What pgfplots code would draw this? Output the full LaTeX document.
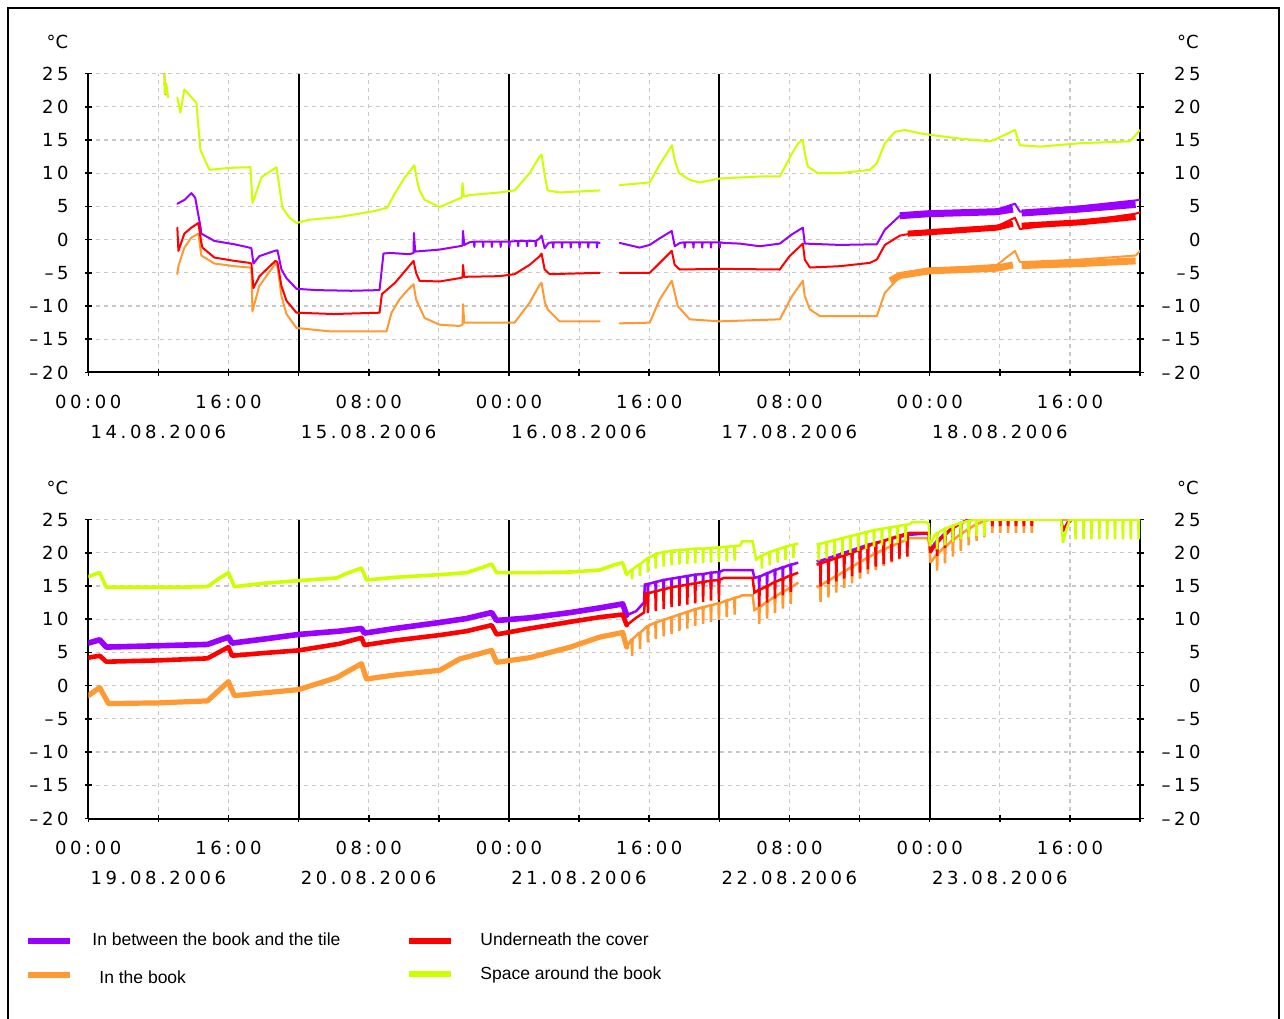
\documentclass[border=0pt]{standalone}
\usepackage{fontspec}
\setmainfont{Liberation Sans}
\newfontfamily\tickfont{DejaVu Sans}[LetterSpace=20]
\newfontfamily\unitfont{DejaVu Sans}
\usepackage{pgfplots}
\pgfplotsset{compat=1.18}
\definecolor{cpur}{RGB}{153,0,255}
\definecolor{cred}{RGB}{255,0,0}
\definecolor{cora}{RGB}{255,153,51}
\definecolor{cgrn}{RGB}{204,255,0}
\definecolor{cgrid}{RGB}{200,200,200}
\newcommand{\tf}{\tickfont\fontsize{9}{10}\selectfont}
\newcommand{\uf}{\unitfont\fontsize{9}{10}\selectfont}
\pgfplotsset{
 panel/.style={
  scale only axis, width=525.85pt, height=149.5pt, anchor=south west,
  xmin=0, xmax=120, ymin=-20, ymax=25,
  axis x line*=bottom, axis y line*=box,
  axis line style={line width=1pt, black},
  xtick={0,8,...,120},
  xticklabels={00:00,,16:00,,08:00,,00:00,,16:00,,08:00,,00:00,,16:00,,},
  ytick={-20,-15,...,25},
  yticklabels={–20,–15,–10,–5,0,5,10,15,20,25},
  tick align=center, major tick length=3.5pt, tick style={line width=0.8pt, black},
  grid=major, major grid style={cgrid, line width=0.6pt, dash pattern=on 2pt off 2pt},
  ticklabel style={font=\tf, inner sep=0pt},
  xticklabel style={anchor=north, yshift=-9.5pt},
  yticklabel style={anchor=east, xshift=-7.9pt},
  extra x ticks={24,48,72,96}, extra x tick labels={},
  extra x tick style={grid=major, major grid style={black, solid, line width=1pt}},
  unbounded coords=jump,
  every axis plot/.append style={line join=round, line cap=round},
 },
 rlab/.style={
  scale only axis, width=525.85pt, height=149.5pt, anchor=south west,
  xmin=0, xmax=120, ymin=-20, ymax=25,
  axis x line=none, axis y line*=right, axis line style={draw=none},
  ytick={-20,-15,...,25},
  yticklabels={–20,–15,–10,–5,0,5,10,15,20,25},
  major tick length=0pt,
  ticklabel style={font=\tf, inner sep=0pt},
  yticklabel style={anchor=east, xshift=30.5pt},
 },
 saw/.style={line width=1.25pt, line cap=butt, line join=miter, miter limit=2},
}
\begin{document}
\begin{tikzpicture}
\path[use as bounding box] (0,0) rectangle (642pt,509pt);
\draw[line width=1pt] (4pt,-1pt) rectangle (639.5pt,505pt);

% ---------------- top panel ----------------
\begin{axis}[panel, at={(44.15pt,322.75pt)}]
\addplot[cpur, line width=1pt] coordinates {
(10.16,5.4)(11.0,6.0)(11.76,7.0)(12.2,6.3)(12.79,2.0)(12.9,0.9)(14.39,-0.2)(16.67,-0.7)(18.38,-1.2)(18.61,-1.3)(18.84,-3.6)(19.5,-2.5)(21.24,-1.7)(21.58,-1.6)(22.04,-4.5)(22.61,-5.8)(23.75,-7.4)(26,-7.6)(30,-7.7)(33.23,-7.6)(33.68,-2.1)(34.37,-2.0)(36.65,-2.2)(37.11,-2.0)(37.15,1.0)(37.3,-1.8)(40.08,-1.5)(42.36,-1.0)(42.7,-0.9)(42.75,1.3)(42.9,-0.8)(43.5,-0.4)
(44,-0.3)(44.05,-1.1)(44.1,-0.3)(45,-0.3)(45.05,-1.1)(45.1,-0.3)(46,-0.3)(46.05,-1.1)(46.1,-0.3)(47,-0.3)(47.05,-1.1)(47.1,-0.3)(48,-0.3)(48.05,-1.1)(48.1,-0.3)(49,-0.2)(49.05,-1.0)(49.1,-0.2)(50,-0.2)(50.05,-1.0)(50.1,-0.2)(51,-0.2)(51.05,-1.0)(51.1,-0.2)
(51.5,0.2)(51.72,0.6)(52.07,-1.3)(52.5,-0.5)
(53,-0.4)(53.05,-1.2)(53.1,-0.4)(54,-0.4)(54.05,-1.2)(54.1,-0.4)(55,-0.4)(55.05,-1.2)(55.1,-0.4)(56,-0.4)(56.05,-1.2)(56.1,-0.4)(57,-0.4)(57.05,-1.2)(57.1,-0.4)(58,-0.4)(58.05,-1.2)(58.1,-0.4)
(58.35,-0.5)(58.4,nan)
(60.63,-0.5)(62.91,-1.2)(64.06,-0.8)(65.2,0.2)(66.57,1.3)(66.91,-1.0)(67.5,-0.5)
(68,-0.4)(68.05,-1.2)(68.1,-0.4)(69,-0.4)(69.05,-1.2)(69.1,-0.4)(70,-0.4)(70.05,-1.2)(70.1,-0.4)(71,-0.4)(71.05,-1.2)(71.1,-0.4)(72,-0.4)(72.05,-1.2)(72.1,-0.4)
(72.5,-0.5)(74.33,-0.6)(76.62,-1.0)(78.9,-0.6)(80.3,0.8)(81.53,1.8)(81.75,-0.6)(85.75,-0.8)(89.97,-0.7)(90.89,1.5)(92.6,3.6)(95.91,4.2)(103.68,4.5)(105.73,5.4)(106.3,4.2)(113.15,5.0)(119.5,5.9)(120,6.0)
};
\addplot[cpur, line width=3.5pt, line cap=butt] coordinates {
(92.6,3.6)(95.91,3.9)(103.68,4.2)(105.5,4.6)(105.6,nan)(106.5,4.0)(113.15,4.6)(119.5,5.3)
};
\addplot[cora, line width=1pt] coordinates {
(8.68,25)(8.75,22)(8.85,21.8)(8.9,nan)
(10.16,-5.2)(10.28,-4)(10.96,-1.2)(11.76,0.3)(12.56,0.9)(12.9,-2.4)(14.39,-3.6)(16.67,-4)(18.38,-4.2)(18.61,-4.3)(18.73,-10.8)(19.5,-7)(21.35,-3.6)(21.58,-4)(22.04,-8.5)(22.61,-11.2)(23.75,-13.3)(27.52,-13.8)(34.03,-13.8)(34.6,-11)(35.5,-9)(36.5,-7.5)(37.11,-6.7)(37.4,-9)(38.37,-11.8)(40.08,-12.8)(42.36,-13)(42.7,-12.8)(42.75,-9.7)(42.9,-12.5)(48.64,-12.5)(50.35,-9.5)(51.5,-6.8)(51.72,-6.5)(52.1,-9.5)(52.41,-10.5)(53.78,-12.3)(58.35,-12.3)(58.4,nan)
(60.63,-12.6)(64.06,-12.5)(65.2,-9)(66.57,-6.2)(66.91,-8)(67.25,-10)(68.62,-12)(72.05,-12.3)(78.9,-12)(80.3,-8.5)(81.53,-6.2)(81.75,-8.5)(82.33,-10.5)(83.47,-11.5)(89.97,-11.5)(90.89,-8)(92.6,-5.6)(95.91,-4.5)(103.68,-3.8)(105.73,-1.7)(106.3,-3.4)(113.15,-3.0)(119.5,-2.4)(120,-1.7)
};
\addplot[cora, line width=3.5pt, line cap=butt] coordinates {
(91.5,-6.2)(92.6,-5.4)(95.91,-4.7)(103.68,-4.3)(105.5,-3.8)(105.6,nan)(106.5,-3.9)(113.15,-3.6)(119.5,-3.2)
};
\addplot[cred, line width=1pt] coordinates {
(10.16,1.8)(10.28,-1.7)(10.96,0.9)(11.76,1.8)(12.56,2.5)(12.9,-0.5)(13.02,-1.2)(14.39,-2.7)(16.67,-3.2)(18.38,-3.5)(18.61,-3.6)(18.84,-7.3)(19.53,-5.5)(21.35,-3.2)(21.58,-3.4)(22.04,-7)(22.61,-9.2)(23.75,-11)(28,-11.2)(33.23,-11)(33.5,-8.2)(35,-6.5)(37.11,-3.2)(37.4,-5)(37.79,-6.2)(40.08,-6.3)(42.36,-5.8)(42.7,-5.7)(42.75,-3.8)(42.9,-5.6)(46.93,-5.5)(48.64,-5.2)(50.35,-3.8)(51.5,-2.5)(51.72,-2.1)(52.07,-4.5)(52.64,-5.2)(58.35,-5.0)(58.4,nan)
(60.63,-5)(64.06,-5)(65.2,-3.5)(66.57,-1.7)(66.91,-3.8)(67.48,-4.5)(72.05,-4.4)(78.9,-4.5)(80.0,-2.5)(81.53,-0.6)(81.75,-3)(82.33,-4.2)(85.75,-4)(89.18,-3.5)(89.97,-3)(90.89,-0.8)(92.6,0.6)(95.91,1.4)(103.68,2.0)(105.73,3.3)(106.3,1.6)(113.15,2.7)(119.5,3.9)(120,4.1)
};
\addplot[cred, line width=3pt, line cap=butt] coordinates {
(93.5,0.9)(95.91,1.1)(103.68,1.8)(105.5,2.4)(105.6,nan)(106.5,2.1)(113.15,2.6)(119.5,3.4)
};
\addplot[cgrn, line width=1pt] coordinates {
(8.68,24.8)(8.75,22)(8.9,23.5)(9.1,21.4)(9.2,nan)
(10.16,21.4)(10.5,19.1)(10.96,22.6)(12.33,20.6)(12.79,13.5)(13.82,10.5)(16.1,10.8)(18.5,10.9)(18.73,5.5)(19.76,9.4)(21.47,10.9)(22.15,4.8)(22.95,3.3)(23.75,2.5)(25.23,3.0)(28.6,3.4)(32.66,4.3)(34.1,4.8)(35,7)(36.08,9.3)(37.2,11.2)(37.5,9)(37.79,7.4)(38.37,6)(40.08,4.9)(42.36,6.2)(42.6,6.3)(42.7,8.5)(42.85,6.5)(43.5,6.7)(46.93,7.1)(48.64,7.4)(50.35,10)(51.4,12.3)(51.72,12.8)(52.1,9.5)(52.41,7.4)(53.78,7.1)(58.35,7.4)(58.4,nan)
(60.63,8.2)(64.06,8.6)(65.2,11.3)(66.6,14.2)(66.9,12)(67.4,10)(68.62,9)(69.76,8.6)(72.05,9.2)(76.62,9.5)(78.9,9.5)(80.3,13)(81.0,14.5)(81.53,15)(81.75,13)(82.1,11)(83.24,10)(85.75,10)(89.18,10.5)(89.97,11.5)(90.89,14.5)(92.03,16.2)(93.17,16.5)(94.88,16)(95.91,15.8)(99.45,15.2)(102.88,14.8)(103.68,15.2)(105.73,16.5)(106.3,14.2)(108.59,14)(113.15,14.5)(118.86,14.8)(120,16.5)
};
\end{axis}
\begin{axis}[rlab, at={(44.15pt,322.75pt)}]
\end{axis}

% ---------------- bottom panel ----------------
\begin{axis}[panel, at={(44.15pt,99.75pt)}]
% purple
\addplot[cpur, line width=2.8pt] coordinates {
(0,6.4)(1.3,6.9)(2.05,5.8)(8,6.0)(13.59,6.2)(15.99,7.3)(16.4,6.4)(20,7.0)(23.98,7.7)(28.66,8.2)(31.17,8.6)(31.51,7.9)(35,8.6)(40.08,9.5)(43.16,10.1)(46.02,11.0)(46.59,9.8)(50.35,10.2)(55,11.0)(58.35,11.7)(60.97,12.3)(61.43,10.6)
};
\addplot[cpur, saw] coordinates {
(61.43,10.6)(62.5,11.2)(63.4,12.5)(63.5,15.2)
(63.8,15.3)(63.85,13.3)(63.9,15.3)(64.7,15.6)(64.75,13.6)(64.8,15.6)(65.6,15.9)(65.65,13.9)(65.7,15.9)(66.5,16.1)(66.55,14.1)(66.6,16.1)(67.4,16.3)(67.45,14.3)(67.5,16.3)(68.3,16.5)(68.35,14.5)(68.4,16.5)(69.2,16.7)(69.25,14.7)(69.3,16.7)(70.1,16.8)(70.15,14.8)(70.2,16.8)(71.0,17.0)(71.05,15.0)(71.1,17.0)(71.9,17.1)(71.95,15.1)(72.0,17.1)
(72.5,17.4)(75.8,17.4)(76.0,16.2)
(76.5,16.4)(76.55,14.4)(76.6,16.4)(77.4,16.9)(77.45,14.9)(77.5,16.9)(78.3,17.4)(78.35,15.4)(78.4,17.4)(79.2,17.8)(79.25,15.8)(79.3,17.8)(80.1,18.2)(80.15,16.2)(80.2,18.2)
(81.0,18.5)(81.1,nan)
(83.1,18.7)
(83.5,18.8)(83.55,17.0)(83.6,18.8)(84.4,19.2)(84.45,17.4)(84.5,19.2)(85.3,19.6)(85.35,17.8)(85.4,19.6)(86.2,20.0)(86.25,18.2)(86.3,20.0)(87.1,20.4)(87.15,18.6)(87.2,20.4)(88.0,20.8)(88.05,19.0)(88.1,20.8)(88.9,21.2)(88.95,19.4)(89.0,21.2)(89.8,21.5)(89.85,19.7)(89.9,21.5)(90.7,21.8)(90.75,20.0)(90.8,21.8)(91.6,22.1)(91.65,20.3)(91.7,22.1)(92.5,22.4)(92.55,20.6)(92.6,22.4)(93.4,22.6)(93.45,20.8)(93.5,22.6)
(93.7,22.7)(95.8,22.9)(95.91,22.7)(96.1,20.5)
(96.8,21.8)(96.85,20.3)(96.9,21.8)(97.7,22.9)(97.75,21.4)(97.8,22.9)(98.6,23.8)(98.65,22.3)(98.7,23.8)(99.5,24.5)(99.55,23.0)(99.6,24.5)(100.4,25)(100.45,23.5)(100.5,25)
(111.0,25)(111.2,23.2)(111.7,24.5)(112.2,25)(120,25)
};
% orange
\addplot[cora, line width=2.6pt] coordinates {
(0,-1.5)(1.3,-0.3)(2.3,-2.7)(8,-2.6)(13.59,-2.3)(15.99,0.6)(16.67,-1.5)(20,-1.1)(23.98,-0.6)(28.32,1.2)(31.17,3.3)(31.74,1.0)(35,1.6)(40.08,2.3)(42.36,4.0)(46.02,5.3)(46.59,3.5)(50.35,4.2)(55,5.8)(58.35,7.3)(60.97,8.0)(61.43,5.8)
};
\addplot[cora, saw] coordinates {
(61.43,5.8)
(62.0,7.0)(62.05,4.5)(62.1,7.0)(62.9,8.0)(62.95,5.5)(63.0,8.0)(63.8,9.0)(63.85,6.5)(63.9,9.0)(64.7,9.5)(64.75,7.0)(64.8,9.5)(65.6,9.9)(65.65,7.4)(65.7,9.9)(66.5,10.3)(66.55,7.8)(66.6,10.3)(67.4,10.7)(67.45,8.2)(67.5,10.7)(68.3,11.1)(68.35,8.6)(68.4,11.1)(69.2,11.5)(69.25,9.0)(69.3,11.5)(70.1,11.8)(70.15,9.3)(70.2,11.8)(71.0,12.1)(71.05,9.6)(71.1,12.1)(71.9,12.4)(71.95,9.9)(72.0,12.4)(72.8,12.8)(72.85,10.3)(72.9,12.8)(73.7,13.2)(73.75,10.7)(73.8,13.2)
(74.3,13.4)(74.6,13.6)(75.8,13.6)(76.0,11.4)
(76.5,11.8)(76.55,9.3)(76.6,11.8)(77.4,12.6)(77.45,10.1)(77.5,12.6)(78.3,13.4)(78.35,10.9)(78.4,13.4)(79.2,14.1)(79.25,11.6)(79.3,14.1)(80.1,14.8)(80.15,12.3)(80.2,14.8)
(81.0,15.5)(81.1,nan)
(83.1,14.8)
(83.5,15.1)(83.55,12.6)(83.6,15.1)(84.4,15.8)(84.45,13.3)(84.5,15.8)(85.3,16.5)(85.35,14.0)(85.4,16.5)(86.2,17.2)(86.25,14.7)(86.3,17.2)(87.1,17.9)(87.15,15.4)(87.2,17.9)(88.0,18.6)(88.05,16.1)(88.1,18.6)(88.9,19.3)(88.95,16.8)(89.0,19.3)(89.8,19.9)(89.85,17.4)(89.9,19.9)(90.7,20.5)(90.75,18.0)(90.8,20.5)(91.6,21.0)(91.65,18.5)(91.7,21.0)(92.5,21.5)(92.55,19.0)(92.6,21.5)(93.4,22.0)(93.45,19.5)(93.5,22.0)
(93.7,22.2)(95.8,22.2)(95.91,21.5)(96.1,18.5)
(96.8,19.8)(96.85,17.3)(96.9,19.8)(97.7,20.9)(97.75,18.4)(97.8,20.9)(98.6,21.9)(98.65,19.4)(98.7,21.9)(99.5,22.8)(99.55,20.3)(99.6,22.8)(100.4,23.6)(100.45,21.1)(100.5,23.6)(101.3,24.3)(101.35,21.8)(101.4,24.3)(102.2,24.8)(102.25,22.3)(102.3,24.8)
(103.1,25)(103.15,23)(103.2,25)(104.0,25)(104.05,23)(104.1,25)(104.9,25)(104.95,23)(105.0,25)(105.8,25)(105.85,23)(105.9,25)(106.7,25)(106.75,23)(106.8,25)(107.6,25)(107.65,23)(107.7,25)
(108.6,25)(120,25)
};
% red
\addplot[cred, line width=2.3pt] coordinates {
(0,4.2)(1.3,4.5)(2.05,3.6)(8,3.8)(13.59,4.1)(15.99,5.8)(16.4,4.5)(20,4.9)(23.98,5.3)(28.66,6.3)(31.17,7.2)(31.51,6.1)(35,6.8)(40.08,7.6)(43.16,8.2)(46.02,9.1)(46.59,7.7)(50.35,8.6)(55,9.6)(58.35,10.3)(60.97,10.7)(61.43,9.1)
};
\addplot[cred, saw] coordinates {
(61.43,9.1)(62.5,10.2)(63.4,11.0)(63.6,13.9)
(63.8,13.9)(63.85,10.9)(63.9,13.9)(64.7,14.2)(64.75,11.2)(64.8,14.2)(65.6,14.5)(65.65,11.5)(65.7,14.5)(66.5,14.8)(66.55,11.8)(66.6,14.8)(67.4,15.0)(67.45,12.0)(67.5,15.0)(68.3,15.2)(68.35,12.2)(68.4,15.2)(69.2,15.4)(69.25,12.4)(69.3,15.4)(70.1,15.6)(70.15,12.6)(70.2,15.6)(71.0,15.8)(71.05,12.8)(71.1,15.8)(71.9,15.9)(71.95,12.9)(72.0,15.9)
(72.5,16.2)(75.8,16.2)(76.0,14.0)
(76.5,14.4)(76.55,11.9)(76.6,14.4)(77.4,15.0)(77.45,12.5)(77.5,15.0)(78.3,15.6)(78.35,13.1)(78.4,15.6)(79.2,16.1)(79.25,13.6)(79.3,16.1)(80.1,16.6)(80.15,14.1)(80.2,16.6)
(81.0,17.0)(81.1,nan)
(83.1,18.2)
(83.5,18.4)(83.55,14.9)(83.6,18.4)(84.4,18.8)(84.45,15.3)(84.5,18.8)(85.3,19.2)(85.35,15.7)(85.4,19.2)(86.2,19.6)(86.25,16.1)(86.3,19.6)(87.1,20.0)(87.15,16.5)(87.2,20.0)(88.0,20.5)(88.05,17.0)(88.1,20.5)(88.9,21.0)(88.95,17.5)(89.0,21.0)(89.8,21.4)(89.85,17.9)(89.9,21.4)(90.7,21.8)(90.75,18.3)(90.8,21.8)(91.6,22.2)(91.65,18.7)(91.7,22.2)(92.5,22.6)(92.55,19.1)(92.6,22.6)(93.4,22.9)(93.45,19.4)(93.5,22.9)
(93.7,23.0)(95.8,23.0)(95.91,22.6)(96.1,20.0)
(96.8,21.5)(96.85,19.5)(96.9,21.5)(97.7,22.7)(97.75,20.7)(97.8,22.7)(98.6,23.7)(98.65,21.7)(98.7,23.7)(99.5,24.4)(99.55,22.4)(99.6,24.4)(100.4,25)(100.45,23)(100.5,25)
(101.3,25)(101.35,24)(101.4,25)(102.2,25)(102.25,24)(102.3,25)(103.1,25)(103.15,24)(103.2,25)(104.0,25)(104.05,24)(104.1,25)(104.9,25)(104.95,24)(105.0,25)(105.8,25)(105.85,24)(105.9,25)(106.7,25)(106.75,24)(106.8,25)(107.6,25)(107.65,24)(107.7,25)
(111.0,25)(111.2,23.5)(111.7,24.3)(112.2,25)(120,25)
};
% green
\addplot[cgrn, line width=1.8pt] coordinates {
(0,16.4)(1.0,16.9)(1.3,17.0)(2.05,14.8)(5,14.8)(10,14.8)(13.59,14.9)(15.0,16.2)(15.99,17.0)(16.67,14.9)(20,15.4)(23.98,15.8)(28.32,16.2)(29.5,16.9)(31.17,17.7)(31.74,15.9)(35,16.3)(40.08,16.7)(43.16,17.0)(45,17.8)(46.02,18.3)(46.59,17.0)(50.35,17.0)(55,17.1)(58.35,17.4)(60.06,18.2)(60.97,18.5)(61.43,16.7)
};
\addplot[cgrn, saw] coordinates {
(61.43,16.7)
(62.0,17.5)(62.05,16.0)(62.1,17.5)(62.9,18.3)(62.95,16.5)(63.0,18.3)(63.8,19.2)(63.85,17.0)(63.9,19.2)(64.7,19.8)(64.75,17.6)(64.8,19.8)(65.6,20.1)(65.65,17.9)(65.7,20.1)(66.5,20.3)(66.55,18.1)(66.6,20.3)(67.4,20.4)(67.45,18.2)(67.5,20.4)(68.3,20.5)(68.35,18.3)(68.4,20.5)(69.2,20.6)(69.25,18.4)(69.3,20.6)(70.1,20.6)(70.15,18.4)(70.2,20.6)(71.0,20.7)(71.05,18.5)(71.1,20.7)(71.9,20.8)(71.95,18.6)(72.0,20.8)(72.8,20.9)(72.85,18.7)(72.9,20.9)(73.7,21.0)(73.75,18.8)(73.8,21.0)
(74.4,21.1)(74.6,21.7)(75.8,21.7)(76.2,19.0)
(76.8,19.6)(76.85,17.6)(76.9,19.6)(77.7,20.1)(77.75,18.1)(77.8,20.1)(78.6,20.5)(78.65,18.5)(78.7,20.5)(79.5,20.9)(79.55,18.9)(79.6,20.9)(80.4,21.2)(80.45,19.2)(80.5,21.2)
(81.0,21.4)(81.1,nan)
(83.1,21.2)
(83.3,21.3)(83.35,18.8)(83.4,21.3)(84.2,21.6)(84.25,19.1)(84.3,21.6)(85.1,21.9)(85.15,19.4)(85.2,21.9)(86.0,22.2)(86.05,19.7)(86.1,22.2)(86.9,22.5)(86.95,20.0)(87.0,22.5)(87.8,22.8)(87.85,20.3)(87.9,22.8)(88.7,23.1)(88.75,20.6)(88.8,23.1)(89.6,23.4)(89.65,20.9)(89.7,23.4)(90.5,23.6)(90.55,21.1)(90.6,23.6)(91.4,23.8)(91.45,21.3)(91.5,23.8)(92.3,24.0)(92.35,21.5)(92.4,24.0)(93.2,24.2)(93.25,21.7)(93.3,24.2)
(93.7,24.3)(94.0,24.6)(95.6,24.6)(95.91,24.3)(96.0,21.0)(96.5,22.5)
(96.8,23.0)(96.85,20.5)(96.9,23.0)(97.7,23.6)(97.75,21.1)(97.8,23.6)(98.6,24.1)(98.65,21.6)(98.7,24.1)(99.5,24.5)(99.55,22.0)(99.6,24.5)(100.4,24.8)(100.45,22.3)(100.5,24.8)(101.3,25)(101.35,22.5)(101.4,25)(102.2,25)(102.25,22.5)(102.3,25)
(111.0,25)(111.2,21.5)(111.6,23.5)(112.0,25)
(112.6,25)(112.65,22)(112.7,25)(113.5,25)(113.55,22)(113.6,25)(114.4,25)(114.45,22)(114.5,25)(115.3,25)(115.35,22)(115.4,25)(116.2,25)(116.25,22)(116.3,25)(117.1,25)(117.15,22)(117.2,25)(118.0,25)(118.05,22)(118.1,25)(118.9,25)(118.95,22)(119.0,25)(119.8,25)(119.85,22)(119.9,25)(120,25)
};
\end{axis}
\begin{axis}[rlab, at={(44.15pt,99.75pt)}]
\end{axis}

% units
\node[anchor=east, inner sep=0pt, font=\uf] at (34.25pt,488.25pt) {°C};
\node[anchor=east, inner sep=0pt, font=\uf] at (599.5pt,488.25pt) {°C};
\node[anchor=east, inner sep=0pt, font=\uf] at (34.25pt,265.25pt) {°C};
\node[anchor=east, inner sep=0pt, font=\uf] at (599.5pt,265.25pt) {°C};

% dates
\foreach \d/\x in {14/79.2,15/184.3,16/289.5,17/394.7,18/499.9}
  \node[inner sep=0pt, font=\tf] at (\x pt,293.25pt) {\d.08.2006};
\foreach \d/\x in {19/79.2,20/184.3,21/289.5,22/394.7,23/499.9}
  \node[inner sep=0pt, font=\tf] at (\x pt,70.25pt) {\d.08.2006};

% legend
\draw[cpur, line width=3pt] (14pt,38.5pt) -- (35pt,38.5pt);
\draw[cred, line width=3pt] (204.5pt,38.5pt) -- (225.5pt,38.5pt);
\draw[cora, line width=3pt] (14pt,21.5pt) -- (35pt,21.5pt);
\draw[cgrn, line width=3pt] (204.5pt,22pt) -- (225.5pt,22pt);
\node[anchor=base west, inner sep=0pt, font=\fontsize{8.75}{10}\selectfont] at (46pt,36.5pt) {In between the book and the tile};
\node[anchor=base west, inner sep=0pt, font=\fontsize{8.75}{10}\selectfont] at (240pt,36.5pt) {Underneath the cover};
\node[anchor=base west, inner sep=0pt, font=\fontsize{8.75}{10}\selectfont] at (49.5pt,17.5pt) {In the book};
\node[anchor=base west, inner sep=0pt, font=\fontsize{8.75}{10}\selectfont] at (240pt,19.5pt) {Space around the book};
\end{tikzpicture}
\end{document}
